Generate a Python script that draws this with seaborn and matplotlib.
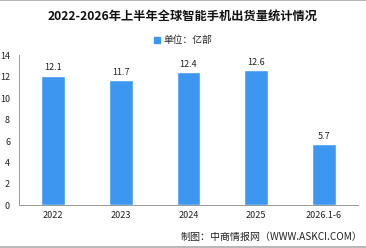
import matplotlib
matplotlib.use("Agg")
import matplotlib.pyplot as plt
import seaborn as sns
import pandas as pd
from matplotlib.lines import Line2D
from matplotlib.patches import Patch

years = ["2022", "2023", "2024", "2025", "2026.1-6"]
shipments = [12.1, 11.7, 12.4, 12.6, 5.7]
y_ticks = [0, 2, 4, 6, 8, 10, 12, 14]

sns.set_style("white")
plt.rcParams['font.family'] = ['Noto Sans CJK SC', 'DejaVu Sans']

df = pd.DataFrame({"year": years, "value": shipments})
bar_color = "#3D97F1"

fig = plt.figure(figsize=(3.66, 2.48), dpi=100)
ax = fig.add_axes([0.052, 0.172, 0.926, 0.605])

sns.barplot(x="year", y="value", data=df, color=bar_color, width=0.35,
            saturation=1, ax=ax)

for i, v in enumerate(shipments):
    ax.text(i, v + 0.3, f"{v:.1f}", ha="center", va="bottom", fontsize=6.5,
            color="#222222")

ax.set_xlim(-0.5, 4.5)
ax.set_ylim(0, 14)
ax.set_yticks(y_ticks)
ax.set_xlabel("")
ax.set_ylabel("")
ax.tick_params(axis="both", labelsize=6.5, colors="#222222", length=3,
               width=0.6, direction="out")
ax.tick_params(axis="x", length=0, pad=4)
ax.set_xticks([i + 0.5 for i in range(-1, 5)], minor=True)
ax.tick_params(axis="x", which="minor", length=3, width=0.6, color="#888888")
ax.tick_params(axis="y", color="#888888")
for s in ["top", "right"]:
    ax.spines[s].set_visible(False)
for s in ["left", "bottom"]:
    ax.spines[s].set_color("#999999")
    ax.spines[s].set_linewidth(0.7)

fig.text(0.5, 0.935, "2022-2026年上半年全球智能手机出货量统计情况", ha="center",
         va="center", fontsize=8.8, fontweight="bold", color="#111111")
ax.legend(handles=[Patch(color=bar_color, label="单位：亿部")], loc="center",
          bbox_to_anchor=(0.5, 0.837), bbox_transform=fig.transFigure,
          frameon=False, fontsize=7, handlelength=0.6, handleheight=0.6,
          handletextpad=0.3)
fig.text(0.99, 0.045, "制图：中商情报网（WWW.ASKCI.COM）", ha="right", va="center",
         fontsize=7.2, color="#222222")

fig.add_artist(Line2D([0, 1], [0.998, 0.998], transform=fig.transFigure,
                      color="#aaaaaa", lw=1.2))
fig.add_artist(Line2D([0, 1], [0.006, 0.006], transform=fig.transFigure,
                      color="#aaaaaa", lw=1.2))

fig.savefig("out.png", dpi=100)
